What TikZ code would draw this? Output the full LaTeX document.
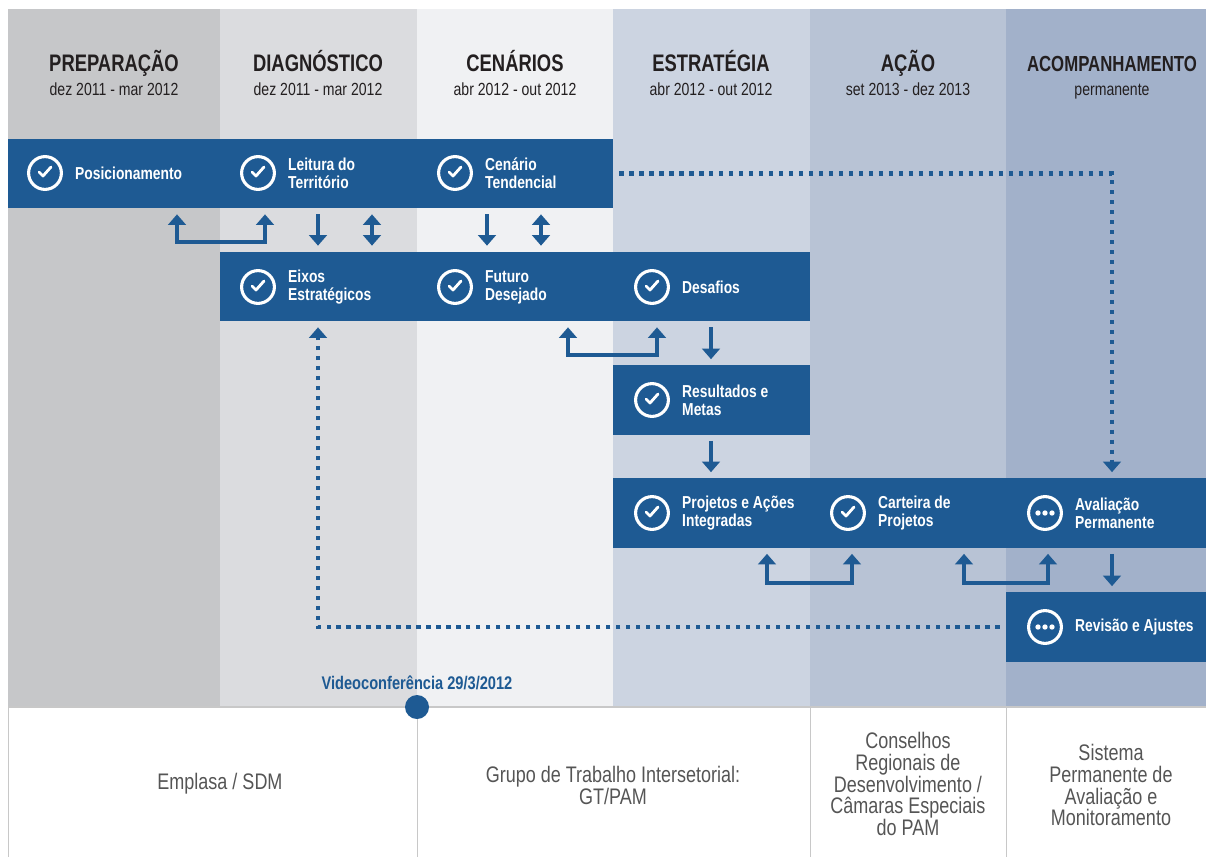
\documentclass[tikz,border=0pt]{standalone}
\usepackage{fontspec}
\setmainfont{Liberation Sans}[FakeStretch=0.8]
\newfontfamily\titlefont{Liberation Sans}[FakeStretch=0.77]
\usetikzlibrary{positioning,arrows.meta}
\definecolor{boxblue}{HTML}{1E5A93}
\definecolor{colA}{HTML}{C6C7C9}
\definecolor{colB}{HTML}{DBDCDF}
\definecolor{colC}{HTML}{F0F1F3}
\definecolor{colD}{HTML}{CCD4E1}
\definecolor{colE}{HTML}{B8C3D5}
\definecolor{colF}{HTML}{A2B1CA}
\definecolor{ink}{HTML}{231F20}
\definecolor{rule}{HTML}{C8C8C8}
\definecolor{foot}{HTML}{555555}
\tikzset{
  band/.style={fill=boxblue, inner sep=0pt, minimum height=1.725cm},
  ico/.style={circle, draw=white, line width=2.2pt, minimum size=0.82cm, inner sep=0pt},
  chk/.style={path picture={\draw[white, line width=2pt, line cap=round, line join=round]
    ([shift={(-6,-1)}]path picture bounding box.center) -- ++(4,4) -- ++(8,-9);}},
  pts/.style={path picture={\fill[white] ([shift={(-7,0)}]path picture bounding box.center) circle[radius=1.9pt]
    ([shift={(0,0)}]path picture bounding box.center) circle[radius=1.9pt]
    ([shift={(7,0)}]path picture bounding box.center) circle[radius=1.9pt];}},
  lbl/.style={font=\fontsize{12.3}{12.8}\selectfont\bfseries, text=white, align=left, inner sep=0pt},
  ttl/.style={font=\titlefont\fontsize{17}{18}\selectfont\bfseries, text=ink, anchor=base, inner sep=0pt},
  sub/.style={font=\fontsize{12.5}{14}\selectfont, text=ink, anchor=base, inner sep=0pt},
  foot/.style={font=\fontsize{16}{15.6}\selectfont, text=foot, align=center, inner sep=0pt},
  arr/.style={draw=boxblue, line width=3.5pt, -{Triangle[width=12.5pt,length=7.5pt]}, shorten <=4.3pt, shorten >=4.3pt},
  arrd/.style={arr, {Triangle[width=12.5pt,length=7.5pt]}-{Triangle[width=12.5pt,length=7.5pt]}},
  dots/.style={arr, line width=3pt, dash pattern=on 3pt off 4.1pt},
  node distance=0.3cm
}
\begin{document}
\begin{tikzpicture}[x=0.025cm, y=-0.025cm]
\useasboundingbox (0,0) rectangle (1206,857);
% colunas
\fill[colA] (8,9) rectangle (220,707);
\fill[colB] (220,9) rectangle (417,707);
\fill[colC] (417,9) rectangle (613,707);
\fill[colD] (613,9) rectangle (810,707);
\fill[colE] (810,9) rectangle (1006,707);
\fill[colF] (1006,9) rectangle (1206,707);
% cabecalhos
\node[ttl] (h1) at (114,71) {PREPARAÇÃO};
\node[sub] (d1) at (114,95) {dez 2011 - mar 2012};
\node[ttl] (h2) at (318,71) {DIAGNÓSTICO};
\node[sub] (d2) at (318,95) {dez 2011 - mar 2012};
\node[ttl] (h3) at (515,71) {CENÁRIOS};
\node[sub] (d3) at (515,95) {abr 2012 - out 2012};
\node[ttl] (h4) at (711,71) {ESTRATÉGIA};
\node[sub] (d4) at (711,95) {abr 2012 - out 2012};
\node[ttl] (h5) at (908,71) {AÇÃO};
\node[sub] (d5) at (908,95) {set 2013 - dez 2013};
\node[ttl, font=\titlefont\fontsize{15.5}{18}\selectfont\bfseries] (h6) at (1112,71) {ACOMPANHAMENTO};
\node[sub] (d6) at (1112,95) {permanente};
% faixas
\node[band, minimum width=15.125cm] (f1) at (310.5,173.5) {};
\node[band, minimum width=14.75cm] (f2) at (515,286.5) {};
\node[band, minimum width=4.925cm] (f3) at (711.5,400) {};
\node[band, minimum width=14.825cm] (f4) at (909.5,513) {};
\node[band, minimum width=5cm] (f5) at (1106,627) {};
% etapas
\node[ico, chk] (pos) at (45,173) {};
\node[lbl, right=of pos] (posT) {Posicionamento};
\node[ico, chk] (lei) at (258,173) {};
\node[lbl, right=of lei] (leiT) {Leitura do\\Território};
\node[ico, chk] (cen) at (455,173) {};
\node[lbl, right=of cen] (cenT) {Cenário\\Tendencial};
\node[ico, chk] (eix) at (258,287) {};
\node[lbl, right=of eix] (eixT) {Eixos\\Estratégicos};
\node[ico, chk] (fut) at (455,287) {};
\node[lbl, right=of fut] (futT) {Futuro\\Desejado};
\node[ico, chk] (des) at (652,287) {};
\node[lbl, right=of des] (desT) {Desafios};
\node[ico, chk] (res) at (652,400) {};
\node[lbl, right=of res] (resT) {Resultados e\\Metas};
\node[ico, chk] (pro) at (652,513) {};
\node[lbl, right=of pro] (proT) {Projetos e Ações\\Integradas};
\node[ico, chk] (car) at (848,513) {};
\node[lbl, right=of car] (carT) {Carteira de\\Projetos};
\node[ico, pts] (ava) at (1045,513) {};
\node[lbl, right=of ava] (avaT) {Avaliação\\Permanente};
\node[ico, pts] (rev) at (1045,627) {};
\node[lbl, right=of rev] (revT) {Revisão e Ajustes};
% setas
\draw[arrd] (f1.south -| 177,0) -- (177,242) -- (265,242) -- (f1.south -| 265,0);
\draw[arr] (f1.south -| 318,0) -- (f2.north -| 318,0);
\draw[arrd] (f1.south -| 372,0) -- (f2.north -| 372,0);
\draw[arr] (f1.south -| 487,0) -- (f2.north -| 487,0);
\draw[arrd] (f1.south -| 541,0) -- (f2.north -| 541,0);
\draw[arrd] (f2.south -| 568,0) -- (568,355) -- (657,355) -- (f2.south -| 657,0);
\draw[arr] (f2.south -| 711,0) -- (f3.north -| 711,0);
\draw[arr] (f3.south -| 711,0) -- (f4.north -| 711,0);
\draw[arrd] (f4.south -| 767,0) -- (767,583) -- (852,583) -- (f4.south -| 852,0);
\draw[arrd] (f4.south -| 964,0) -- (964,583) -- (1048,583) -- (f4.south -| 1048,0);
\draw[arr] (f4.south -| 1112,0) -- (f5.north -| 1112,0);
\draw[dots] (f1.east) -| (f4.north -| 1112,0);
\draw[dots] (f5.west) -| (f2.south -| 318,0);
% rodape
\draw[rule, line width=1.4pt] (8,707) -- (1206,707);
\draw[rule, line width=0.7pt] (8,707) -- (8,857);
\draw[rule, line width=0.7pt] (417,707) -- (417,857);
\draw[rule, line width=0.7pt] (810,707) -- (810,857);
\draw[rule, line width=0.7pt] (1006,707) -- (1006,857);
\node[circle, fill=boxblue, minimum size=0.6cm, inner sep=0pt] (vid) at (417,707) {};
\node[font=\fontsize{13}{14}\selectfont\bfseries, text=boxblue, inner sep=0pt] (vidT) at (417,683) {Videoconferência 29/3/2012};
\node[foot] (emp) at (220,784) {Emplasa / SDM};
\node[foot] (gt) at (613,785) {Grupo de Trabalho Intersetorial:\\GT/PAM};
\node[foot] (cons) at (908,784) {Conselhos\\Regionais de\\Desenvolvimento /\\Câmaras Especiais\\do PAM};
\node[foot] (sis) at (1111,785) {Sistema\\Permanente de\\Avaliação e\\Monitoramento};
\end{tikzpicture}
\end{document}
